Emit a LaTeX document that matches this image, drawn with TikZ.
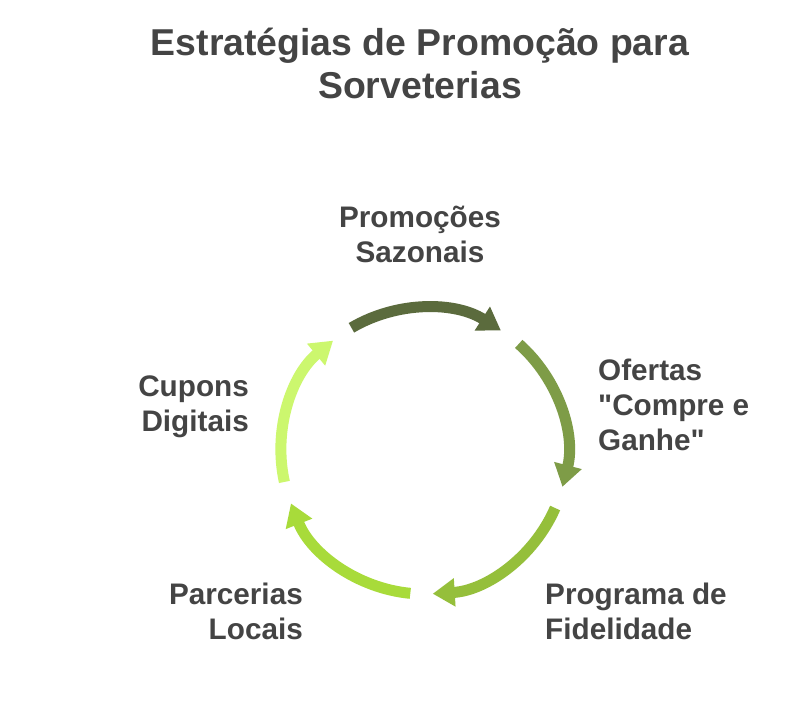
\documentclass[tikz,border=0pt]{standalone}
\usepackage{fontspec}
\setmainfont{Liberation Sans}[Ligatures=TeXOff]
\usetikzlibrary{arrows.meta,calc}
\definecolor{txt}{HTML}{444444}
\definecolor{cA}{HTML}{5B6B3D}
\definecolor{cB}{HTML}{7E9C47}
\definecolor{cC}{HTML}{95BF3B}
\definecolor{cD}{HTML}{A8DB3A}
\definecolor{cE}{HTML}{CCF76E}
\begin{document}
\begin{tikzpicture}[x=1pt,y=-1pt,
  titlefont/.style={font=\fontsize{37.4}{43}\selectfont\bfseries, text=txt, inner sep=0pt, align=center},
  lab/.style={font=\fontsize{29.7}{35}\selectfont\bfseries, text=txt, inner sep=0pt},
  arcarrow/.style={line width=11pt, -{Triangle[width=27pt,length=22pt]}}]
\useasboundingbox (0,0) rectangle (794,722);
\fill[white] (0,0) rectangle (794,722);
\node[titlefont] (title) at (420,63.5) {Estratégias de Promoção para\\Sorveterias};
\coordinate (c) at (424,451);
\def\R{143}
\foreach \m/\col [count=\i] in {89/cA,17/cB,-55/cC,-127/cD,-199/cE}{
  \coordinate (s\i) at ($(c)+({\m+31.5}:{\R} and {-\R})$);
  \draw[arcarrow, draw=\col] (s\i) arc[start angle={-(\m+31.5)}, end angle={-(\m-31.5)}, radius=\R];
}
\node[lab, align=center] (pro) at (420,234.5) {Promoções\\Sazonais};
\node[lab, align=left, anchor=west] (ofe) at (598,404.5) {Ofertas\\"Compre e\\Ganhe"};
\node[lab, align=left, anchor=west] (fid) at (545,611.5) {Programa de\\Fidelidade};
\node[lab, align=right, anchor=east] (par) at (303,611.5) {Parcerias\\Locais};
\node[lab, align=right, anchor=east] (cup) at (249,407) {Cupons\\Digitais};
\end{tikzpicture}
\end{document}
